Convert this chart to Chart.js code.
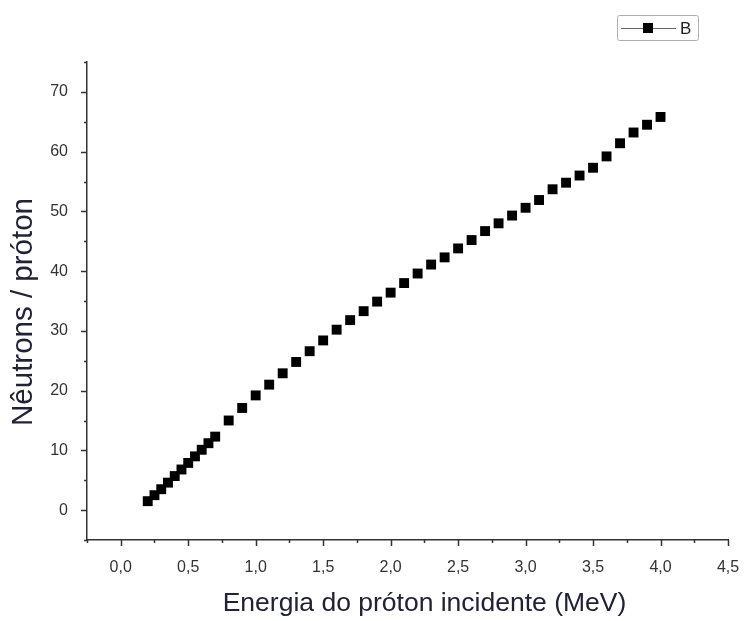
<!DOCTYPE html>
<html>
<head>
<meta charset="utf-8">
<script src="https://cdn.jsdelivr.net/npm/chart.js@4.4.1/dist/chart.umd.min.js"></script>
<style>
html, body { margin: 0; padding: 0; background: #fff; }
</style>
</head>
<body>
<canvas id="grafico" width="745" height="621"></canvas>
<script>
// energia do próton (MeV) e nêutrons por próton
const energia = [0.2, 0.25, 0.3, 0.35, 0.4, 0.45, 0.5, 0.55, 0.6, 0.65, 0.7,
    0.8, 0.9, 1.0, 1.1, 1.2, 1.3, 1.4, 1.5, 1.6, 1.7, 1.8, 1.9, 2.0,
    2.1, 2.2, 2.3, 2.4, 2.5, 2.6, 2.7, 2.8, 2.9, 3.0, 3.1, 3.2, 3.3,
    3.4, 3.5, 3.6, 3.7, 3.8, 3.9, 4.0];
const neutrons = [1.5, 2.5, 3.5, 4.6, 5.7, 6.8, 7.9, 9.0, 10.1, 11.2, 12.3,
    15.0, 17.1, 19.2, 21.0, 22.9, 24.8, 26.6, 28.4, 30.2, 31.8, 33.3, 34.9, 36.4,
    38.0, 39.6, 41.1, 42.3, 43.8, 45.2, 46.7, 48.0, 49.3, 50.6, 51.9, 53.7, 54.8,
    56.0, 57.3, 59.2, 61.4, 63.2, 64.5, 65.8];
const serieNome = 'B';
const tituloX = 'Energia do próton incidente (MeV)';
const tituloY = 'Nêutrons / próton';

const pontos = energia.map((e, i) => ({ x: e, y: neutrons[i] }));

const corEixo = '#333';
const corTexto = '#222236';
const fonte = '"Liberation Sans", Arial, sans-serif';

function isMajorX(v) { return v >= 0 && Math.abs(v * 2 - Math.round(v * 2)) < 1e-6; }
function isMajorY(v) { return v >= 0 && Math.abs(v % 10) < 1e-6; }

// marcas de escala maiores e menores (estilo Origin)
const marcas = {
    id: 'marcas',
    afterDraw(chart) {
        const ctx = chart.ctx;
        const area = chart.chartArea;
        const sx = chart.scales.x, sy = chart.scales.y;
        ctx.save();
        ctx.strokeStyle = corEixo;
        ctx.lineWidth = 1.5;
        sx.ticks.forEach(t => {
            const px = Math.round(sx.getPixelForValue(t.value)) + 0.5;
            const len = isMajorX(t.value) ? 6 : 3;
            ctx.beginPath(); ctx.moveTo(px, area.bottom); ctx.lineTo(px, area.bottom + len); ctx.stroke();
        });
        sy.ticks.forEach(t => {
            const py = Math.round(sy.getPixelForValue(t.value)) + 0.5;
            const len = isMajorY(t.value) ? 6 : 3;
            ctx.beginPath(); ctx.moveTo(area.left, py); ctx.lineTo(area.left - len, py); ctx.stroke();
        });
        ctx.restore();
    }
};

// títulos dos eixos, um pouco deslocados do centro como no original
const titulos = {
    id: 'titulos',
    afterDraw(chart) {
        const ctx = chart.ctx;
        const area = chart.chartArea;
        ctx.save();
        ctx.fillStyle = corTexto;
        ctx.textAlign = 'center';
        ctx.textBaseline = 'middle';
        ctx.font = '26.5px ' + fonte;
        ctx.fillText(tituloX, (area.left + area.right) / 2 + 17, 604);
        ctx.translate(24, (area.top + area.bottom) / 2 + 11);
        ctx.rotate(-Math.PI / 2);
        ctx.font = '29.5px ' + fonte;
        ctx.fillText(tituloY, 0, 0);
        ctx.restore();
    }
};

// legenda em caixa, linha + quadrado + nome
const legendaCaixa = {
    id: 'legendaCaixa',
    afterDraw(chart) {
        const ctx = chart.ctx;
        ctx.save();
        ctx.strokeStyle = '#b0b0b0';
        ctx.lineWidth = 1;
        ctx.beginPath();
        ctx.roundRect(617.5, 15.5, 81, 25, 2);
        ctx.stroke();
        ctx.strokeStyle = '#666';
        ctx.beginPath(); ctx.moveTo(621, 28.5); ctx.lineTo(676, 28.5); ctx.stroke();
        ctx.fillStyle = '#000';
        ctx.fillRect(643, 23, 10, 10);
        ctx.fillStyle = '#222';
        ctx.font = '17px ' + fonte;
        ctx.textBaseline = 'middle';
        ctx.fillText(serieNome, 680, 29);
        ctx.restore();
    }
};

Chart.defaults.font.family = fonte;

new Chart(document.getElementById('grafico'), {
    type: 'scatter',
    data: {
        datasets: [{
            label: serieNome,
            data: pontos,
            pointStyle: 'rect',
            pointRadius: 7,
            pointHoverRadius: 7,
            backgroundColor: '#000',
            borderColor: '#000',
            borderWidth: 0,
            showLine: false
        }]
    },
    options: {
        responsive: false,
        animation: false,
        events: [],
        layout: { padding: { left: 0, top: 62, right: 17, bottom: 0 } },
        plugins: { legend: { display: false }, tooltip: { enabled: false } },
        scales: {
            x: {
                type: 'linear', min: -0.25, max: 4.5,
                afterFit: s => { s.height = 81; s.paddingLeft = 0; s.paddingRight = 0; },
                grid: { display: false, drawTicks: false },
                border: { display: true, color: corEixo, width: 1.5 },
                ticks: {
                    stepSize: 0.25, autoSkip: false, maxRotation: 0, padding: 18,
                    color: corEixo, font: { size: 16 },
                    callback: v => isMajorX(v) ? v.toFixed(1).replace('.', ',') : ''
                }
            },
            y: {
                type: 'linear', min: -5, max: 75,
                afterFit: s => { s.width = 87; s.paddingTop = 0; s.paddingBottom = 0; },
                grid: { display: false, drawTicks: false },
                border: { display: true, color: corEixo, width: 1.5 },
                ticks: {
                    stepSize: 5, autoSkip: false, padding: 19,
                    color: corEixo, font: { size: 16 },
                    callback: v => isMajorY(v) ? String(v) : ''
                }
            }
        }
    },
    plugins: [marcas, titulos, legendaCaixa]
});
</script>
</body>
</html>
